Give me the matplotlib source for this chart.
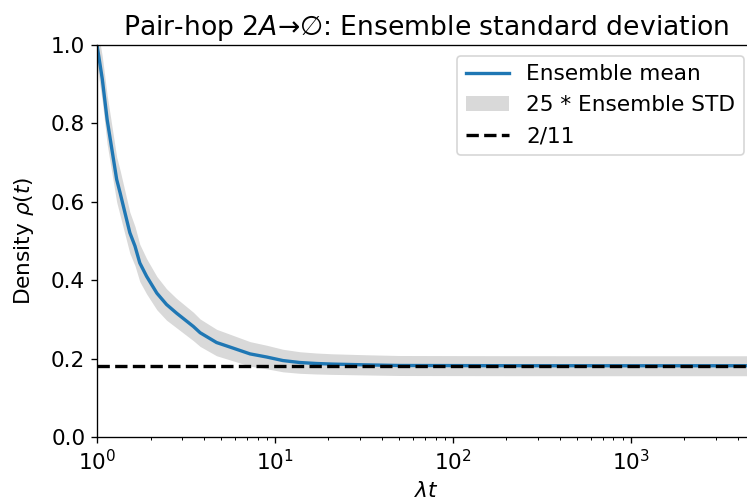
import matplotlib
matplotlib.use("Agg")
import matplotlib.pyplot as plt
import numpy as np

# ensemble of pair-hop annihilation runs: mean density and spread over time
t = np.array([1, 1.071, 1.14, 1.29, 1.35, 1.436, 1.53, 1.635, 1.74, 1.90, 2.17, 2.46, 2.8,
              3.48, 3.8, 4.7, 5.8, 7.25, 9.0, 11.1, 13.8, 17.1, 21, 32.7, 50, 200, 1000, 5000])
rho_mean = np.array([1.0, 0.913, 0.81, 0.657, 0.622, 0.572, 0.521, 0.487, 0.444, 0.41, 0.367,
                     0.338, 0.316, 0.282, 0.266, 0.241, 0.227, 0.212, 0.204, 0.195, 0.190,
                     0.1875, 0.186, 0.184, 0.1824, 0.1819, 0.1818, 0.1818])
rho_std = np.array([0.0021, 0.0023, 0.0025, 0.0023, 0.0023, 0.0022, 0.0021, 0.0020, 0.0019,
                    0.0018, 0.0017, 0.0016, 0.0015, 0.00145, 0.0014, 0.00135, 0.0013, 0.00125,
                    0.0012, 0.00115, 0.0011, 0.00107, 0.00105, 0.00103, 0.00102, 0.00102,
                    0.00102, 0.00102])
scale = 25
rho_inf = 2 / 11

fig = plt.figure(figsize=(747 / 120, 503 / 120), dpi=120)
ax = fig.add_axes([97 / 747, 66 / 503, 658 / 747, 392 / 503])

ax.fill_between(t, rho_mean - scale * rho_std, rho_mean + scale * rho_std,
                color='0.85', lw=0, label=f'{scale} * Ensemble STD')
ax.plot(t, rho_mean, color='#1f77b4', lw=2, label='Ensemble mean')
ax.axhline(rho_inf, color='black', linestyle='--', lw=2, label='2/11')

ax.set_xscale('log')
ax.set_xlim(1, 5000)
ax.set_ylim(0, 1)
ax.tick_params(labelsize=13)
ax.set_xlabel(r'$\lambda t$', fontsize=13, labelpad=4)
ax.set_ylabel(r'Density $\rho(t)$', fontsize=13, labelpad=9)
ax.set_title('Pair-hop 2$A$→∅: Ensemble standard deviation', fontsize=16)

h, l = ax.get_legend_handles_labels()
ax.legend([h[1], h[0], h[2]], [l[1], l[0], l[2]], loc='upper right', fontsize=13)

fig.savefig('out.png', dpi=120)
